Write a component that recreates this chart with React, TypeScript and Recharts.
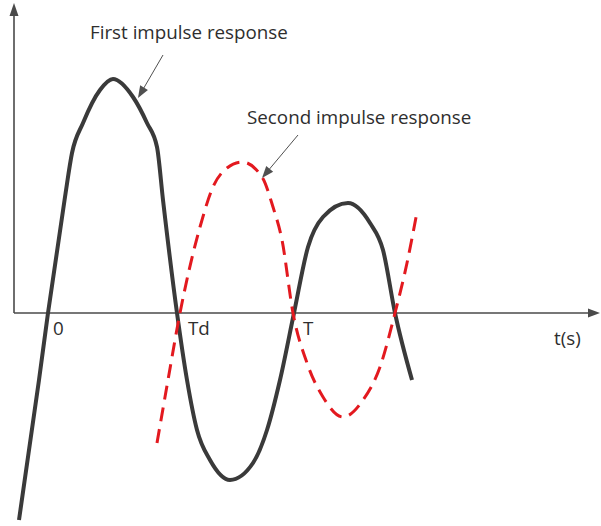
import React from 'react';
import { LineChart, Line, XAxis, YAxis, ReferenceLine, ReferenceDot } from 'recharts';

// Time axis (arbitrary units, 0 at the origin) and amplitudes
const firstT = [-2.9, -0.9, 0, 1.7, 2.4, 3.5, 5.2, 6.5, 8.5, 9.9, 10.9, 11.5, 12.9, 13.9, 14.9, 16.2, 18.2, 20.5, 21.9, 23.2, 24.6, 26.0, 27.5, 30.0, 32.2, 33.5, 34.7, 36.4];
const firstY = [-20.7, -6.7, 0, 11.6, 16.0, 19.0, 22.3, 23.4, 21.6, 19.0, 16.6, 11.3, 0, -6.7, -11.7, -14.7, -16.7, -15.0, -11.7, -6.7, 0, 6.6, 9.6, 11.0, 9.0, 6.3, 0, -6.7];

const secondT = [10.9, 12.0, 13.2, 15.2, 16.5, 17.9, 19.4, 21.4, 22.5, 23.4, 24.5, 25.9, 27.5, 29.5, 31.5, 33.2, 34.7, 35.9, 36.9];
const secondY = [-13.0, -6.7, 0, 8.6, 12.6, 14.5, 15.1, 13.6, 10.6, 7.3, 0, -5.0, -8.4, -10.4, -8.7, -5.4, 0, 5.0, 10.1];

// Tick labels on the time axis
const tickLabels = ['0', 'Td', 'T'];
const tickLabelT = [0.5, 14.0, 25.5];
const tickLabelY = -2.2;
const unitLabel = 't(s)';
const unitLabelPos = { t: 50.6, y: -3.2 };

// Annotations
const annotationTexts = ['First impulse response', 'Second impulse response'];
const annotationTextPos = [{ t: 4.2, y: 27.4 }, { t: 19.9, y: 18.9 }];
const annotationArrows = [
  [{ x: 11.5, y: 25.8 }, { x: 9.0, y: 21.5 }],
  [{ x: 25.0, y: 17.8 }, { x: 21.4, y: 13.5 }],
];

// Axis extents
const tMin = -3.4;
const tMax = 55.2;
const yMax = 31.0;

const firstData = firstT.map((t, i) => ({ t, y: firstY[i] }));
const secondData = secondT.map((t, i) => ({ t, y: secondY[i] }));

const FONT = '"Open Sans", sans-serif';

const arrowShape = (color: string, width: number, headLen: number, headHalf: number) => (props: any) => {
  const { x1, y1, x2, y2 } = props;
  const dx = x2 - x1;
  const dy = y2 - y1;
  const len = Math.hypot(dx, dy) || 1;
  const ux = dx / len;
  const uy = dy / len;
  const bx = x2 - ux * headLen;
  const by = y2 - uy * headLen;
  const px = -uy * headHalf;
  const py = ux * headHalf;
  return (
    <g>
      <line x1={x1} y1={y1} x2={bx + ux * 1} y2={by + uy * 1} stroke={color} strokeWidth={width} />
      <polygon points={`${x2},${y2} ${bx + px},${by + py} ${bx - px},${by - py}`} fill={color} />
    </g>
  );
};

const textShape = (text: string) => (props: any) => (
  <text x={props.cx} y={props.cy} fontFamily={FONT} fontSize={18.8} fill="#2e2e2e" textAnchor="start">
    {text}
  </text>
);

export default function App() {
  return (
    <div style={{ position: 'absolute', left: 0, top: 0, background: '#fff' }}>
      <LineChart width={601} height={526} margin={{ top: 0, right: 0, bottom: 0, left: 0 }}>
        <XAxis type="number" dataKey="t" domain={[-4.8, 55.3]} hide allowDataOverflow />
        <YAxis type="number" dataKey="y" domain={[-21.3, 31.3]} hide allowDataOverflow />
        <ReferenceLine
          segment={[{ x: tMin, y: 0 }, { x: tMin, y: yMax }]}
          shape={arrowShape('#4a4a4a', 1.6, 13, 4.5)}
          ifOverflow="visible"
        />
        <ReferenceLine
          segment={[{ x: tMin, y: 0 }, { x: tMax, y: 0 }]}
          shape={arrowShape('#4a4a4a', 1.6, 12, 4.5)}
          ifOverflow="visible"
        />
        <Line
          data={firstData}
          dataKey="y"
          type="monotone"
          stroke="#3a3a3a"
          strokeWidth={4}
          dot={false}
          activeDot={false}
          isAnimationActive={false}
        />
        <Line
          data={secondData}
          dataKey="y"
          type="monotone"
          stroke="#e3191f"
          strokeWidth={3}
          strokeDasharray="14 8"
          dot={false}
          activeDot={false}
          isAnimationActive={false}
        />
        {annotationArrows.map((seg, i) => (
          <ReferenceLine key={'a' + i} segment={seg} shape={arrowShape('#505050', 1, 12, 4.5)} ifOverflow="visible" />
        ))}
        {annotationTexts.map((txt, i) => (
          <ReferenceDot
            key={'t' + i}
            x={annotationTextPos[i].t}
            y={annotationTextPos[i].y}
            r={0}
            shape={textShape(txt)}
            ifOverflow="visible"
          />
        ))}
        {tickLabels.map((txt, i) => (
          <ReferenceDot
            key={'k' + i}
            x={tickLabelT[i]}
            y={tickLabelY}
            r={0}
            shape={textShape(txt)}
            ifOverflow="visible"
          />
        ))}
        <ReferenceDot x={unitLabelPos.t} y={unitLabelPos.y} r={0} shape={textShape(unitLabel)} ifOverflow="visible" />
      </LineChart>
    </div>
  );
}
